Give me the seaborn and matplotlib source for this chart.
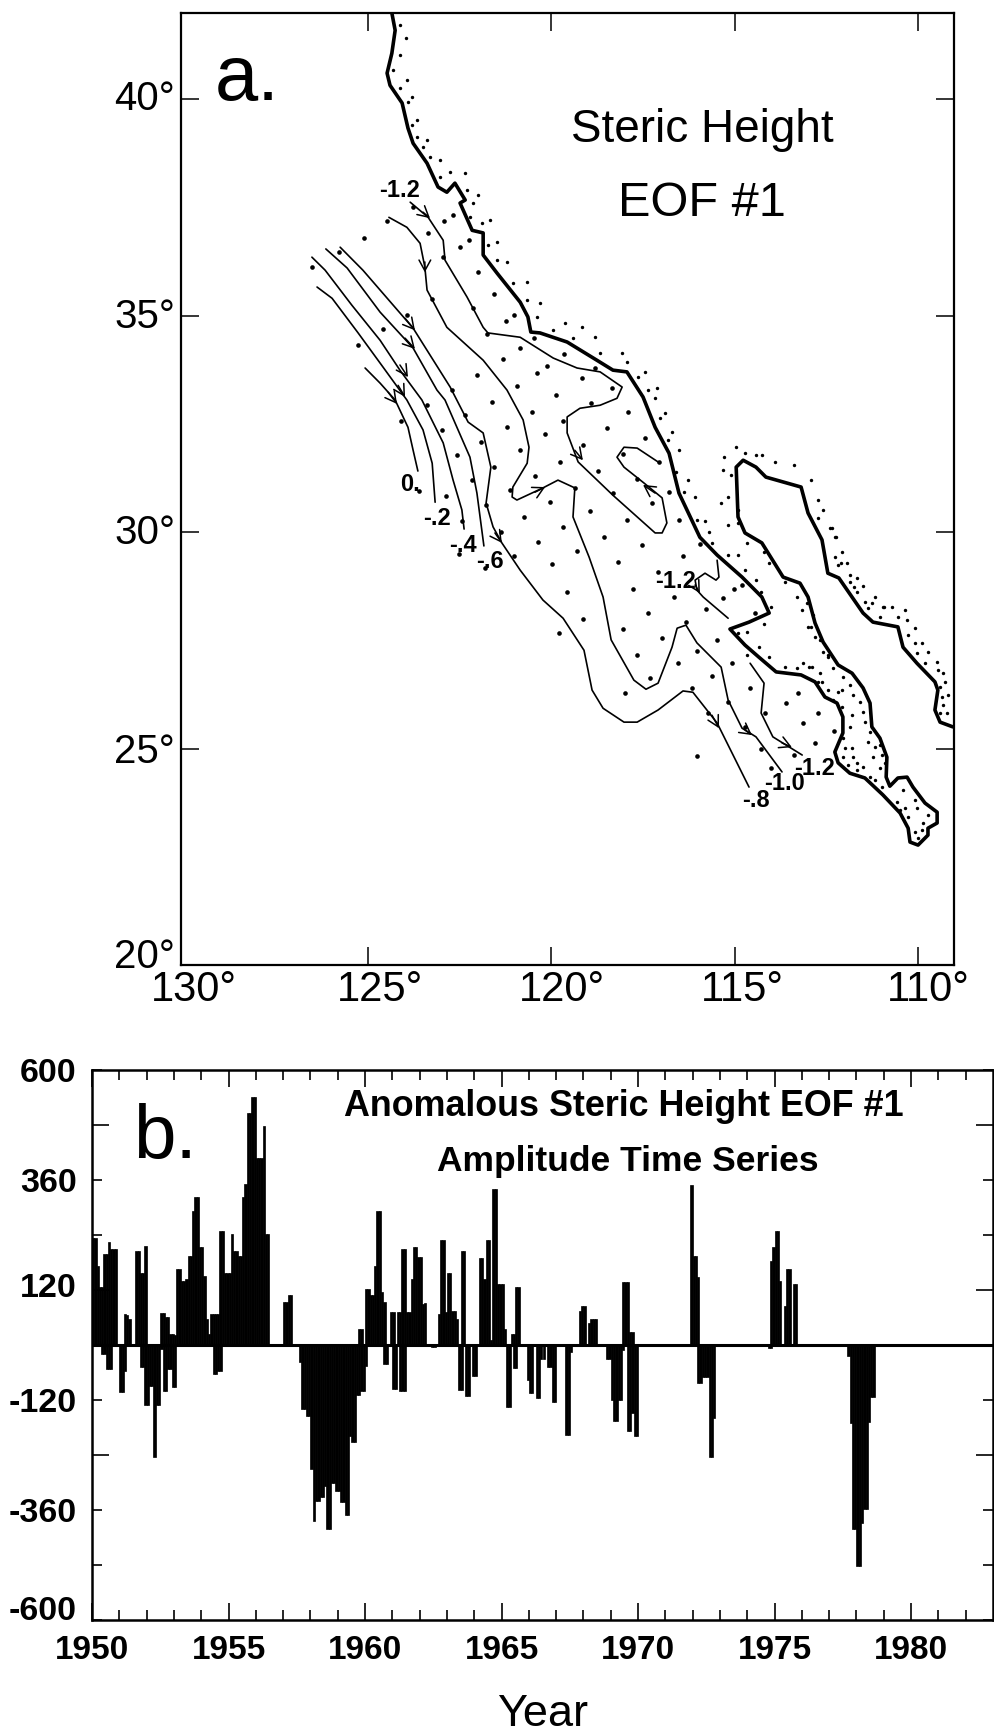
import matplotlib
matplotlib.use("Agg")
import matplotlib.pyplot as plt
from matplotlib.transforms import ScaledTranslation
import numpy as np
import seaborn as sns

W, H = 995, 1735

# a) coastline, lon/lat
coast = [(124.35,41.99),(124.26,41.59),(124.35,41.06),(124.48,40.60),(124.40,40.32),(124.07,39.91),(123.91,39.33),
         (123.77,38.98),(123.39,38.52),(123.09,37.97),(122.85,37.85),(122.63,38.06),(122.35,37.67),(122.49,37.60),
         (122.16,36.97),(121.86,36.91),(121.86,36.40),(121.48,35.98),(120.85,35.31),(120.64,34.97),(120.56,34.62),
         (120.31,34.60),(119.57,34.39),(118.76,33.97),(118.32,33.74),(117.94,33.70),(117.50,33.12),(117.17,32.42),
         (116.79,31.82),(116.52,30.90),(115.95,29.88),(115.48,29.47),(114.80,28.96),(114.26,28.50),(114.06,28.13),
         (114.61,27.92),(115.13,27.76),(114.72,27.39),(114.34,27.11),(113.87,26.77),(113.19,26.70),(112.81,26.54),
         (112.54,26.19),(112.21,26.05),(112.05,25.73),(112.05,25.36),(112.27,24.92),(112.18,24.67),(111.86,24.43),
         (111.45,24.32),(110.96,23.93),(110.49,23.51),(110.27,23.16),(110.22,22.84),(110.00,22.77),(109.73,23.00),
         (109.73,23.16),(109.48,23.28),(109.48,23.53),(109.81,23.74),(110.14,24.11),(110.30,24.34),(110.55,24.32),
         (110.77,24.13),(110.87,24.34),(110.85,24.80),(111.04,25.24),(111.26,25.50),(111.31,26.05),(111.50,26.40),
         (111.80,26.74),(112.18,26.93),(112.59,27.46),(112.81,27.90),(113.00,28.50),(113.22,28.82),(113.68,28.96),
         (114.26,29.75),(114.72,29.98),(114.91,30.35),(114.96,31.50),(114.77,31.66),(114.42,31.50),(114.15,31.27),
         (113.19,31.04),(113.00,30.44),(112.62,29.82),(112.46,29.05),(112.16,28.94),(111.50,28.13),(111.23,27.92),
         (110.55,27.81),(110.41,27.34),(110.03,26.97),(109.54,26.54),(109.46,26.35),(109.54,25.89),(109.40,25.61),
         (109.05,25.50)]

# contours
contour_a = [(125.08,33.79),(124.67,33.44),(124.26,33.05),(123.91,32.42),(123.77,31.89),(123.64,31.41)]
contour_b = [(126.39,35.66),(125.98,35.40),(125.27,34.60),(124.59,33.81),(123.94,33.05),(123.50,32.36),(123.25,31.59),
             (123.17,30.69)]
contour_c = [(126.53,36.35),(126.17,36.05),(125.44,35.24),(124.67,34.43),(124.13,33.74),(123.53,33.05),(122.95,32.06),
             (122.68,31.20),(122.44,30.51),(122.38,30.07)]
contour_d = [(126.15,36.54),(125.57,36.10),(124.67,35.08),(123.77,34.25),(123.12,33.28),(122.90,33.05),(122.22,31.73),
             (122.03,30.90),(121.84,29.68)]
contour_e = [(125.76,36.58),(125.14,36.05),(123.77,34.71),(122.76,33.35),(122.27,32.54),(121.86,32.29),(121.65,31.50),
             (121.78,30.67),(121.59,30.12),(121.35,29.75),(120.85,29.12),(120.23,28.43),(119.68,28.01),(119.11,27.27),
             (118.89,26.35),(118.59,25.93),(118.02,25.61),(117.66,25.61),(117.09,25.89),(116.41,26.33),(116.14,26.30),
             (115.48,25.59),(114.61,24.11)]
contour_f = [(124.43,37.27),(123.94,37.04),(123.58,36.67),(123.45,36.12),(123.39,35.59),(122.85,34.73),(121.86,33.97),
             (121.21,33.28),(120.77,32.59),(120.61,31.96),(120.66,31.59),(121.05,31.04),(121.07,30.81),(120.94,30.74),
             (120.23,31.02),(119.82,31.20),(119.36,31.02),(119.41,30.35),(118.97,29.42),(118.59,28.50),(118.37,27.51),
             (117.75,26.58),(117.42,26.37),(117.09,26.51),(116.71,27.34),(116.57,27.78),(116.33,27.85),(116.03,27.44),
             (115.37,26.88),(115.18,26.12),(114.80,25.47),(114.42,25.27),(113.71,24.46)]
contour_g = [(123.85,37.62),(123.36,37.27),(122.95,36.74),(122.90,36.28),(122.30,35.43),(121.86,34.73),(121.73,34.60),
             (120.85,34.50),(119.95,34.02),(119.30,33.79),(118.67,33.70),(118.07,33.35),(118.21,33.09),(118.67,32.93),
             (119.22,32.86),(119.57,32.66),(119.57,32.29),(119.27,31.62),(118.32,30.85),(117.17,29.98),(116.98,29.98),
             (116.85,30.21),(116.98,30.79),(117.47,31.13),(118.02,31.50),(118.21,31.73),(118.02,31.96),(117.66,31.94),
             (117.09,31.62)]
contour_h = [(115.48,29.35),(115.43,28.96),(115.51,28.89),(115.81,29.05),(116.08,28.89),(116.03,28.66),(115.86,28.50),
             (115.18,28.01)]
contour_i = [(114.58,26.97),(114.20,26.51),(114.28,25.82),(113.96,25.27),(113.16,24.85)]

arrow_tails = [(123.50,37.39),(123.45,36.24),(123.99,34.94),(123.99,34.48),(124.13,33.86),(124.18,33.39),(124.45,33.23),
               (120.45,30.92),(119.36,31.89),(117.17,30.90),(121.54,29.98),(116.08,28.78),(115.62,25.77),(114.72,25.43),
               (113.71,25.13)]
arrow_tips = [(123.31,37.25),(123.45,36.00),(123.72,34.66),(123.72,34.23),(123.91,33.58),(123.99,33.12),(124.21,32.96),
              (120.17,31.04),(119.14,31.66),(117.50,31.09),(121.35,29.75),(115.95,28.59),(115.43,25.47),(114.53,25.31),
              (113.44,25.03)]

stations = [(124.48,37.18),(125.11,36.79),(125.79,36.47),(126.53,36.12),(125.27,34.32),(124.59,34.69),(123.94,35.01),
            (122.71,33.28),(123.39,32.93),(124.10,32.56),(122.35,32.70),(122.98,32.36),(121.92,32.08),(122.57,31.78),
            (121.56,31.50),(122.16,31.20),(123.77,37.51),(123.36,36.91),(122.93,37.18),(122.68,37.32),(122.95,36.35),
            (122.49,36.58),(122.25,36.74),(122.00,36.00),(121.56,35.50),(122.14,35.17),(123.25,35.38),(121.02,35.01),
            (121.24,34.87),(121.75,34.57),(120.47,34.48),(120.85,34.25),(119.66,34.11),(121.32,33.99),(120.12,33.83),
            (120.39,33.67),(122.03,33.63),(118.81,33.79),(119.16,33.56),(120.94,33.37),(118.35,33.33),(119.87,33.16),
            (121.62,33.00),(118.92,32.98),(120.53,32.77),(117.91,32.77),(119.68,32.56),(121.21,32.42),(118.48,32.40),
            (120.17,32.26),(117.45,32.17),(119.14,32.01),(120.85,31.89),(119.76,31.62),(118.05,31.80),(117.06,31.62),
            (120.45,31.29),(118.73,31.41),(117.66,31.22),(121.13,30.97),(119.36,31.02),(116.79,30.92),(118.32,30.90),
            (123.61,30.95),(122.87,30.83),(122.44,30.25),(122.52,29.49),(121.81,29.17),(121.78,30.62),(121.37,30.00),
            (121.02,29.45),(120.75,30.35),(120.04,30.69),(119.68,30.12),(120.36,29.77),(119.30,29.56),(119.98,29.26),
            (119.57,28.61),(119.79,27.67),(119.14,27.99),(118.95,30.48),(118.56,29.88),(118.18,29.31),(117.53,29.70),
            (117.94,30.28),(117.26,30.67),(116.52,30.28),(115.95,29.72),(116.41,29.45),(117.09,29.08),(117.77,28.68),
            (117.36,28.13),(116.66,28.50),(115.78,28.22),(115.32,28.48),(115.02,28.68),(114.80,28.78),(114.45,28.13),
            (118.05,27.76),(116.98,27.55),(116.33,27.92),(117.66,27.16),(116.03,27.25),(115.48,27.51),(116.55,26.97),
            (115.07,26.97),(117.31,26.63),(115.62,26.67),(117.99,26.28),(116.16,26.40),(114.58,26.40),(115.18,26.07),
            (113.27,26.28),(113.60,26.05),(115.73,25.82),(114.17,25.82),(112.73,25.82),(113.14,25.59),(112.29,25.40),
            (114.72,25.50),(112.81,25.13),(114.28,24.99),(113.38,24.85),(114.01,24.55),(116.03,24.83)]

# stippled land
stipple = [(124.13,41.71),(123.96,41.41),(124.13,41.02),(124.32,40.67),(123.94,40.44),(124.13,40.25),(123.80,40.05),
           (123.91,39.93),(123.66,39.51),(123.80,39.40),(123.39,39.05),(123.66,39.12),(123.50,38.89),(123.31,38.66),
           (123.04,38.59),(123.04,38.20),(122.76,38.31),(122.35,38.29),(122.30,37.90),(122.00,37.78),(122.14,37.60),
           (122.22,37.27),(121.67,37.21),(121.89,37.14),(121.48,36.70),(121.73,36.63),(121.48,36.28),(121.21,36.24),
           (121.05,35.75),(120.66,35.77),(120.66,35.36),(120.31,35.29),(120.39,34.97),(119.63,34.83),(119.16,34.73),
           (119.95,34.66),(119.41,34.48),(118.81,34.50),(118.67,34.13),(118.07,34.13),(117.94,33.93),(117.45,33.70),
           (117.64,33.58),(117.12,33.33),(117.36,33.28),(117.17,33.09),(116.90,32.75),(117.04,32.63),(116.71,32.31),
           (116.82,32.12),(116.52,31.89),(116.60,31.39),(116.27,31.20),(116.38,30.92),(116.08,30.81),(116.03,30.28),
           (115.81,30.25),(115.70,30.00),(115.62,29.75),(115.18,29.47),(114.91,29.47),(114.72,29.12),(114.42,28.89),
           (114.28,28.61),(114.01,28.27),(114.20,27.88),(114.66,27.69),(114.91,27.67),(114.34,27.34),(114.66,27.16),
           (114.06,27.11),(113.63,26.88),(113.30,26.86),(112.97,26.88),(112.73,26.54),(112.46,26.35),(112.07,26.35),
           (114.96,31.96),(115.29,31.73),(114.72,31.82),(114.42,31.78),(114.26,31.78),(113.90,31.62),(113.38,31.55),
           (112.92,31.20),(112.73,30.74),(112.59,30.51),(112.35,30.09),(112.27,29.88),(112.10,29.28),(111.75,28.73),
           (111.45,28.38),(110.93,28.27),(110.36,28.20),(115.32,31.43),(115.10,31.32),(115.18,30.81),(115.37,30.67),
           (114.91,30.51),(115.18,30.16),(114.91,30.21),(114.66,29.75),(114.20,29.54),(114.06,29.28),(113.63,28.85),
           (113.30,28.50),(113.16,28.20),(112.92,27.81),(112.67,27.51),(112.46,27.11),(112.73,30.32),(112.40,30.09),
           (112.24,29.88),(112.07,29.54),(112.27,29.42),(111.94,29.28),(112.18,29.24),(111.86,29.01),(111.66,28.94),
           (111.86,28.85),(111.50,28.75),(111.66,28.61),(111.17,28.50),(111.26,28.36),(110.96,28.27),(111.37,28.24),
           (110.71,28.27),(111.04,28.04),(110.55,28.04),(110.30,27.97),(110.08,27.78),(110.27,27.62),(109.89,27.44),
           (110.08,27.44),(109.73,27.23),(110.03,27.21),(109.48,27.00),(109.81,26.97),(109.32,26.74),(109.46,26.81),
           (109.27,26.54),(109.40,26.42),(109.18,26.24),(109.35,26.19),(109.32,26.00),(109.21,25.82),(109.40,25.82),
           (113.03,28.36),(112.86,28.08),(113.00,27.81),(112.81,27.57),(112.59,27.23),(112.46,27.16),(112.32,26.86),
           (113.14,26.97),(112.89,26.88),(112.67,26.74),(112.05,26.65),(111.86,26.47),(112.62,26.54),(112.18,26.30),
           (111.77,26.24),(112.32,26.12),(111.58,26.07),(112.07,25.96),(111.50,25.84),(111.80,25.77),(111.45,25.61),
           (111.86,25.50),(111.31,25.38),(112.05,25.24),(111.80,25.01),(111.17,25.03),(111.04,25.08),(111.99,25.01),
           (111.37,25.15),(110.98,24.85),(112.05,24.80),(111.77,24.80),(111.23,24.80),(110.90,24.66),(111.91,24.62),
           (111.66,24.66),(111.50,24.57),(111.66,24.50),(111.04,24.55),(111.31,24.34),(111.17,24.27),(110.98,24.11),
           (110.57,23.76),(110.41,24.04),(110.36,23.63),(110.08,23.81),(110.03,23.63),(110.27,23.42),(109.73,23.46),
           (109.86,23.28),(110.08,23.07),(109.89,23.12),(110.00,22.93),(110.49,23.58)]

contour_texts = ["0.", "-.2", "-.4", "-.6", "-1.2", "-1.2", "-1.2", "-1.0", "-.8"]
contour_text_pos = [(123.85,31.09),(123.12,30.32),(122.41,29.68),(121.67,29.33),(124.13,37.88),(116.60,28.85),
                    (112.81,24.55),(113.63,24.20),(114.42,23.81)]

# b) monthly amplitude, one row a year from 1950
amp_pos = [233,233,173,126,126,198,198,224,209,209,209,0,
           0,0,68,65,57,0,0,204,204,158,158,217,
           0,0,0,0,0,0,70,70,60,60,24,24,
           22,166,166,140,140,145,195,195,293,322,322,213,
           213,151,57,24,68,68,68,68,249,249,158,158,
           158,243,206,206,195,195,322,351,507,507,540,540,
           409,409,409,478,242,242,0,0,0,0,0,0,
           93,93,109,109,0,0,0,0,0,0,0,0,
           0,0,0,0,0,0,0,0,0,0,0,0,
           0,0,0,0,0,0,0,0,0,35,35,0,
           122,122,108,108,173,293,293,115,93,0,0,71,
           71,0,71,71,209,209,71,71,144,214,214,191,
           191,89,91,0,0,0,0,0,68,229,229,71,
           158,158,75,75,57,0,206,206,0,0,0,0,
           0,0,189,189,144,229,229,10,340,340,133,134,
           134,35,0,0,24,24,126,126,0,0,0,0,
           0,0,0,0,0,0,0,0,0,0,0,0,
           0,0,0,0,0,0,0,0,0,0,75,86,
           86,0,49,57,57,57,0,0,0,0,0,0,
           0,0,0,0,0,137,137,137,28,28,0,0,
           0,0,0,0,0,0,0,0,0,0,0,0,
           0,0,0,0,0,0,0,0,0,0,0,350,
           195,195,148,0,0,0,0,0,0,0,0,0,
           0,0,0,0,0,0,0,0,0,0,0,0,
           0,0,0,0,0,0,0,0,0,0,184,213,
           248,248,140,0,86,166,166,0,133,133,0,0,
           0,0,0,0,0,0,0,0,0,0,0,0,
           0,0,0,0,0,0,0,0,0,0,0,0,
           0,0,0,0,0,0,0,0,0,0,0,0]
amp_neg = [0,0,0,0,-20,-20,-52,-52,-52,0,0,0,
           -102,-102,-56,0,0,0,0,0,0,-49,-49,-132,
           -132,-89,-89,-244,-132,-132,-9,-100,-100,-52,-52,-92,
           -92,0,0,0,0,0,0,0,0,0,0,0,
           0,0,0,0,0,-63,-63,-56,-56,0,0,0,
           0,0,0,0,0,0,0,0,0,0,0,0,
           0,0,0,0,0,0,0,0,0,0,0,0,
           0,0,0,0,0,0,0,-38,-140,-140,-154,-154,
           -270,-383,-340,-340,-332,-332,-307,-401,-401,-301,-301,-318,
           -318,-343,-343,-372,-372,-198,-211,-211,-110,-110,-100,-100,
           -45,0,0,0,0,0,0,0,-41,-41,0,0,
           -96,-96,0,-100,-100,-100,0,0,0,0,0,0,
           0,0,0,0,0,-5,-5,0,0,0,0,0,
           0,0,0,0,0,-98,-98,0,-112,-112,0,-68,
           -68,0,0,0,0,0,0,0,0,0,0,0,
           0,0,-136,-136,0,-51,-51,0,0,0,0,-76,
           -105,-105,0,-116,-116,-31,-31,0,-47,-47,-124,-124,
           0,0,0,0,-196,-196,-15,0,0,0,0,0,
           0,0,0,0,0,0,0,0,0,0,-31,-31,
           -120,-165,-165,-120,-120,-11,0,-187,-187,-149,-198,-198,
           0,0,0,0,0,0,0,0,0,0,0,0,
           0,0,0,0,0,0,0,0,0,0,0,0,
           0,0,-84,-84,-69,-69,-69,-244,-244,-160,0,0,
           0,0,0,0,0,0,0,0,0,0,0,0,
           0,0,0,0,0,0,0,0,0,-7,-7,0,
           0,0,0,0,0,0,0,0,0,0,0,0,
           0,0,0,0,0,0,0,0,0,0,0,0,
           0,0,0,0,0,0,0,0,-25,-171,-402,-402,
           -482,-482,-389,-358,-358,-169,-113,-113,0,0,0,0]

lat_labels = ["40°", "35°", "30°", "25°", "20°"]
lon_labels = ["130°", "125°", "120°", "115°", "110°"]
year_ticks = [1950, 1955, 1960, 1965, 1970, 1975, 1980]
amp_ticks = [600, 480, 360, 240, 120, 0, -120, -240, -360, -480, -600]
amp_labels = ["600", "", "360", "", "120", "", "-120", "", "-360", "", "-600"]
amp_long = [480, 120, -240]

sns.set_theme(style="ticks")
plt.rcParams["font.family"] = ["Liberation Sans", "DejaVu Sans"]


def px_text(x, y, s, **kw):
    kw.setdefault("ha", "center")
    kw.setdefault("va", "center")
    kw.setdefault("color", "black")
    fig.text(x / W, 1 - y / H, s, **kw)


fig = plt.figure(figsize=(W / 100, H / 100), dpi=100, facecolor="white")

# a) map
ax_map = fig.add_axes([181 / W, 1 - 965 / H, (954 - 181) / W, (965 - 13) / H])
for c in [contour_a, contour_b, contour_c, contour_d, contour_e, contour_f, contour_g, contour_h, contour_i]:
    sns.lineplot(x=[p[0] for p in c], y=[p[1] for p in c], sort=False, estimator=None, color="black", lw=1.2,
                 solid_joinstyle="round", ax=ax_map)
sns.lineplot(x=[p[0] for p in coast], y=[p[1] for p in coast], sort=False, estimator=None, color="black", lw=2.6,
             solid_joinstyle="round", ax=ax_map)
sns.scatterplot(x=[p[0] for p in stations], y=[p[1] for p in stations], color="black", s=11, linewidth=0, ax=ax_map)
sns.scatterplot(x=[p[0] for p in stipple], y=[p[1] for p in stipple], color="black", s=6, linewidth=0, ax=ax_map)
for tail, tip in zip(arrow_tails, arrow_tips):
    ax_map.annotate("", xy=tip, xytext=tail,
                    arrowprops=dict(arrowstyle="->,head_length=0.55,head_width=0.3", color="black", lw=1.1,
                                    shrinkA=0, shrinkB=0, mutation_scale=14))
for s, (lon, lat) in zip(contour_texts, contour_text_pos):
    ax_map.text(lon, lat, s, ha="center", va="center", fontsize=17, fontweight="bold", color="black")
ax_map.set_xlim(130.1, 109.02)
ax_map.set_ylim(20, 41.99)
ax_map.set_xticks([125, 120, 115, 110])
ax_map.set_yticks([40, 35, 30, 25])
ax_map.tick_params(direction="in", length=13, width=1.3, top=True, right=True, labelbottom=False, labelleft=False)
for sp in ax_map.spines.values():
    sp.set_linewidth(1.6)
    sp.set_color("black")

for s, y in zip(lat_labels, [99, 317, 533, 752, 957]):
    px_text(175, y, s, ha="right", fontsize=29)
for s, x in zip(lon_labels, [194, 380, 562, 742, 928]):
    px_text(x, 990, s, fontsize=30)
px_text(215, 100, "a.", ha="left", va="baseline", fontsize=56)
px_text(702, 130, "Steric Height", fontsize=33)
px_text(702, 203, "EOF #1", fontsize=35)

# b) amplitude time series
ax_amp = fig.add_axes([92 / W, 1 - 1620 / H, (993 - 92) / W, (1620 - 1070) / H])
months = 1950 + (np.arange(len(amp_pos)) + 0.5) / 12
for values in [amp_pos, amp_neg]:
    sns.barplot(x=months, y=values, native_scale=True, color="black", saturation=1, width=1, errorbar=None,
                edgecolor="black", linewidth=0.5, ax=ax_amp)
ax_amp.axhline(0, color="black", lw=2.2)
ax_amp.set_xlim(1950, 1983)
ax_amp.set_ylim(-600, 600)
ax_amp.set_xticks(year_ticks)
ax_amp.set_xticklabels([str(y) for y in year_ticks], fontsize=24, fontweight="bold", color="black")
ax_amp.set_xticks(np.arange(1951, 1983), minor=True)
ax_amp.set_yticks(amp_ticks)
ax_amp.set_yticklabels(amp_labels, fontsize=24.5, fontweight="bold", color="black")
ax_amp.tick_params(axis="both", which="major", direction="in", length=12, width=1.4, top=True, right=True, pad=11)
ax_amp.tick_params(axis="x", which="minor", direction="in", length=7, width=1.4, top=True)
for tick, val in zip(ax_amp.yaxis.get_major_ticks(), amp_ticks):
    if val not in amp_long:
        tick.tick1line.set_markersize(7)
        tick.tick2line.set_markersize(7)
    # these labels sit a little above their ticks
    if val in (120, -600):
        shift = 0.05 if val == 120 else 0.12
        tick.label1.set_transform(tick.label1.get_transform() + ScaledTranslation(0, shift, fig.dpi_scale_trans))
for sp in ax_amp.spines.values():
    sp.set_linewidth(1.8)
    sp.set_color("black")
ax_amp.set_xlabel("Year", fontsize=32.5, labelpad=20, color="black")
ax_amp.set_ylabel("")

px_text(133, 1158, "b.", ha="left", va="baseline", fontsize=55)
px_text(624, 1106, "Anomalous Steric Height EOF #1", fontsize=25.8, fontweight="bold")
px_text(628, 1162, "Amplitude Time Series", fontsize=25.5, fontweight="bold")

fig.savefig("out.png", dpi=100)
